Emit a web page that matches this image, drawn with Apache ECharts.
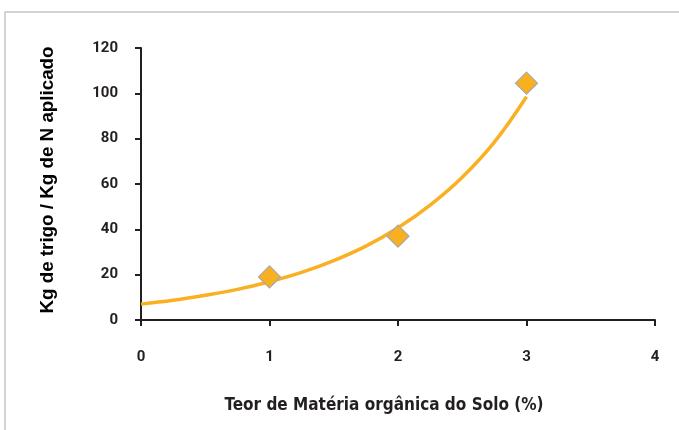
<!DOCTYPE html>
<html><head><meta charset="utf-8">
<script src="https://cdn.jsdelivr.net/npm/echarts@6/dist/echarts.min.js"></script>
<style>html,body{margin:0;padding:0;background:#fff}#c{width:679px;height:430px}</style>
</head><body><div id="c"></div>
<script>
var pointsX = [1, 2, 3];
var pointsY = [19, 37, 104.5];
var trendX = [0, 0.25, 0.5, 0.75, 1, 1.25, 1.5, 1.75, 2, 2.25, 2.5, 2.75, 3];
var trendY = [7, 8.7, 10.9, 13.5, 16.9, 21, 26.2, 32.6, 40.7, 50.7, 63, 78.5, 98.5];
var xTitle = 'Teor de Matéria orgânica do Solo (%)';
var yTitle = 'Kg de trigo / Kg de N aplicado';

var chart = echarts.init(document.getElementById('c'));
chart.setOption({
  animation: false,
  graphic: [{type:'rect', shape:{x:5, y:12, width:700, height:500}, style:{fill:'none', stroke:'#c6c6c6', lineWidth:1.5}, silent:true}],
  grid: {left:141, right:24, top:48, bottom:110},
  xAxis: {
    type:'value', min:0, max:4, interval:1,
    axisLine:{lineStyle:{color:'#231f20', width:2}},
    axisTick:{show:true, length:6, lineStyle:{color:'#231f20', width:2}},
    splitLine:{show:false},
    axisLabel:{margin:30, color:'#231f20', fontSize:15, fontWeight:'bold', fontFamily:'Roboto'},
    name: xTitle, nameLocation:'middle', nameGap:77,
    nameTextStyle:{color:'#231f20', fontSize:17, fontWeight:'bold', fontFamily:'DejaVu Sans Condensed', padding:[0,28,0,0]}
  },
  yAxis: {
    type:'value', min:0, max:120, interval:20,
    axisLine:{show:true, lineStyle:{color:'#231f20', width:2}},
    axisTick:{show:true, length:6, lineStyle:{color:'#231f20', width:2}},
    splitLine:{show:false},
    axisLabel:{margin:23, color:'#231f20', fontSize:15, fontWeight:'bold', fontFamily:'Roboto'},
    name: yTitle, nameLocation:'middle', nameGap:84, nameRotate:90,
    nameTextStyle:{color:'#000', fontSize:18.8, fontWeight:'bold', fontFamily:'Liberation Sans', padding:[0,0,0,8]}
  },
  series: [
    {type:'line', smooth:0.4, showSymbol:false, z:2,
     data: trendX.map(function(x,i){return [x, trendY[i]];}),
     lineStyle:{color:'#F9B022', width:3.5}},
    {type:'scatter', symbol:'diamond', symbolSize:22, z:3,
     data: pointsX.map(function(x,i){return [x, pointsY[i]];}),
     itemStyle:{color:'#F9B020', borderColor:'#a9a9a9', borderWidth:1.2, opacity:1}}
  ]
});
</script></body></html>
